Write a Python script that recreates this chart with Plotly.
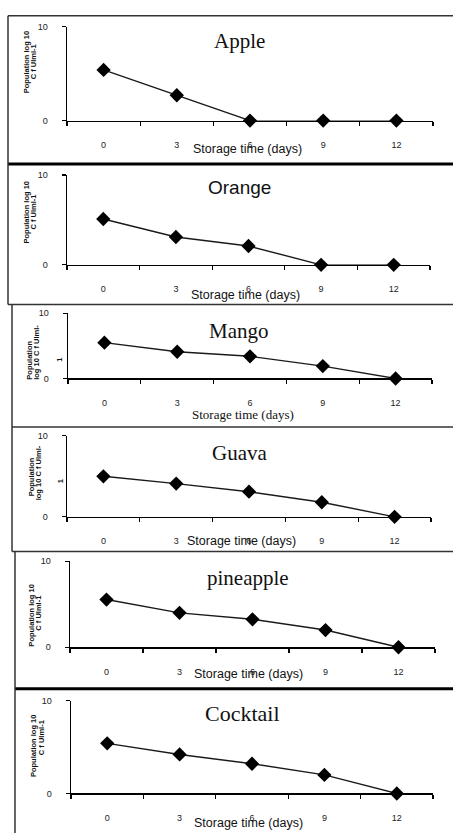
import plotly.graph_objects as go

W, H = 453, 838

# ---------------- data ----------------
days = ["0", "3", "6", "9", "12"]
apple = [5.4, 2.7, 0, 0, 0]
orange = [5.1, 3.1, 2.1, 0, 0]
mango = [5.5, 4.1, 3.4, 1.9, 0]
guava = [5.0, 4.1, 3.1, 1.8, 0]
pineapple = [5.55, 4.0, 3.25, 2.0, 0]
cocktail = [5.4, 4.2, 3.2, 2.0, 0]
panel_titles = ["Apple", "Orange", "Mango", "Guava", "pineapple", "Cocktail"]
y_tick_vals = [0, 10]
y_tick_text = ["0", "10"]
x_title = "Storage time (days)"
y_title_two = ["Population log 10", "C f Ulml-1"]
y_title_three = ["Population", "log 10 C f Ulml-", "1"]

series = [apple, orange, mango, guava, pineapple, cocktail]

SERIF = "Liberation Serif"
SANS = "Liberation Sans"

# ---------------- geometry (pixels) ----------------
panels = [
    dict(x0=67, x1=433, yt=22, yb=117, tx=239, ty=36, tfont=SERIF, tsize=21,
         ax=247, ay=146, afont=SANS, asize=12.5, yl=[(26, 58), (33, 58)], ytitle=y_title_two),
    dict(x0=67, x1=430, yt=172, yb=263, tx=239, ty=185, tfont=SANS, tsize=19,
         ax=245, ay=293, afont=SANS, asize=12.5, yl=[(26, 210), (33, 210)], ytitle=y_title_two),
    dict(x0=68, x1=432, yt=312, yb=378, tx=239, ty=330, tfont=SERIF, tsize=21,
         ax=243, ay=414, afont=SERIF, asize=13, yl=[(30, 360), (37, 352), (60, 359)], ytitle=y_title_three),
    dict(x0=67, x1=431, yt=436, yb=518, tx=239, ty=453, tfont=SERIF, tsize=21,
         ax=242, ay=542, afont=SANS, asize=12.5, yl=[(31, 478), (38, 474), (60, 482)], ytitle=y_title_three),
    dict(x0=70, x1=435, yt=563, yb=650, tx=248, ty=580, tfont=SERIF, tsize=21,
         ax=248, ay=677, afont=SANS, asize=12.5, yl=[(32, 618), (39, 616)], ytitle=y_title_two),
    dict(x0=71, x1=433, yt=704, yb=798, tx=243, ty=717, tfont=SERIF, tsize=22,
         ax=248, ay=828, afont=SANS, asize=12.5, yl=[(33, 750), (41, 742)], ytitle=y_title_two),
]


def px(x):
    return x / W


def py(y):
    return 1 - y / H


fig = go.Figure()
annotations = []
layout_axes = {}

tick_font = dict(family=SANS, size=9, color="#222")

for i, (vals, p, name) in enumerate(zip(series, panels, panel_titles)):
    n = "" if i == 0 else str(i + 1)
    fig.add_trace(go.Scatter(
        x=days, y=vals, xaxis="x" + n, yaxis="y" + n,
        mode="lines+markers",
        line=dict(color="#1a1a1a", width=1.4),
        marker=dict(symbol="diamond", size=11, color="black"),
        cliponaxis=False, showlegend=False, hoverinfo="skip",
    ))
    layout_axes["xaxis" + n] = dict(
        type="category", categoryorder="array", categoryarray=days,
        range=[-0.5, 4.5], domain=[px(p["x0"]), px(p["x1"])], anchor="y" + n,
        showline=True, linecolor="black", linewidth=1.5,
        ticks="outside", ticklen=4, tickcolor="black", tickwidth=1.2,
        tickson="boundaries", showgrid=False, zeroline=False,
        tickfont=tick_font, ticklabelstandoff=15, fixedrange=True,
    )
    layout_axes["yaxis" + n] = dict(
        range=[0, 10], domain=[py(p["yb"]), py(p["yt"])], anchor="x" + n,
        showline=True, linecolor="black", linewidth=1.5,
        tickmode="array", tickvals=y_tick_vals, ticktext=y_tick_text,
        ticks="outside", ticklen=4, tickcolor="black", tickwidth=1.2,
        showgrid=False, zeroline=False, tickfont=tick_font,
        ticklabelstandoff=12, fixedrange=True,
    )
    annotations.append(dict(
        text=name, x=px(p["tx"]), y=py(p["ty"]), xref="paper", yref="paper",
        xanchor="center", yanchor="middle", showarrow=False,
        font=dict(family=p["tfont"], size=p["tsize"], color="#111"),
    ))
    annotations.append(dict(
        text=x_title, x=px(p["ax"]), y=py(p["ay"]), xref="paper", yref="paper",
        xanchor="center", yanchor="middle", showarrow=False,
        font=dict(family=p["afont"], size=p["asize"], color="#111"),
    ))
    for line_text, (lx, ly) in zip(p["ytitle"], p["yl"]):
        annotations.append(dict(
            text="<b>" + line_text + "</b>", x=px(lx), y=py(ly),
            xref="paper", yref="paper", xanchor="center", yanchor="middle",
            textangle=-90, showarrow=False,
            font=dict(family=SANS, size=7.5, color="#111"),
        ))


def hline(y, x0, x1, w, c):
    return dict(type="line", xref="paper", yref="paper", x0=px(x0), x1=px(x1),
                y0=py(y), y1=py(y), line=dict(color=c, width=w))


def vline(x, y0, y1, w, c):
    return dict(type="line", xref="paper", yref="paper", x0=px(x), x1=px(x),
                y0=py(y0), y1=py(y1), line=dict(color=c, width=w))


shapes = [
    hline(11, 8, 453, 1.5, "#333"),
    hline(161, 8, 453, 3, "black"),
    hline(303, 8, 453, 1.5, "#333"),
    hline(427, 12, 453, 1.5, "#333"),
    hline(553, 12, 453, 1.5, "#333"),
    hline(692, 15, 453, 3, "black"),
    vline(8, 11, 303, 1.5, "#333"),
    vline(12, 303, 553, 1.5, "#333"),
    vline(15, 553, 838, 1.5, "#333"),
]

fig.update_layout(
    width=W, height=H, margin=dict(l=0, r=0, t=0, b=0),
    paper_bgcolor="white", plot_bgcolor="white",
    showlegend=False, annotations=annotations, shapes=shapes,
    **layout_axes,
)

fig.write_html(
    "out.html",
    config={"displayModeBar": False, "staticPlot": True},
    post_script="document.body.style.margin='0';document.body.style.overflow='hidden';",
)
